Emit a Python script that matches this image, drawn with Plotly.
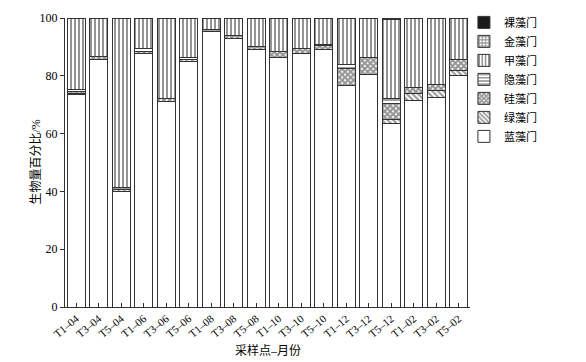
import plotly.graph_objects as go

categories = ["T1–04", "T3–04", "T5–04", "T1–06", "T3–06", "T5–06",
              "T1–08", "T3–08", "T5–08", "T1–10", "T3–10", "T5–10",
              "T1–12", "T3–12", "T5–12", "T1–02", "T3–02", "T5–02"]

lanzao = [73.5, 85.8, 40.0, 87.8, 71.0, 85.0, 95.3, 93.0, 89.0, 86.3, 87.8, 89.0, 76.5, 80.5, 63.5, 71.5, 72.5, 80.0]
lvzao  = [0.5, 0.0, 0.5, 0.0, 0.0, 0.5, 0.0, 0.0, 0.0, 0.0, 0.0, 0.0, 0.0, 0.0, 1.5, 2.5, 2.3, 2.0]
guizao = [0.5, 0.8, 0.0, 0.5, 1.3, 0.0, 0.8, 0.8, 1.3, 2.2, 1.5, 1.5, 6.0, 6.0, 5.5, 2.0, 2.2, 3.5]
yinzao = [0.8, 0.0, 1.0, 1.2, 0.0, 1.0, 0.0, 0.0, 0.0, 0.0, 0.0, 0.5, 1.5, 0.0, 1.5, 0.0, 0.0, 0.0]
jiazao = [24.7, 13.4, 58.5, 10.5, 27.7, 13.5, 3.9, 6.2, 9.7, 11.5, 10.7, 9.0, 16.0, 13.5, 27.5, 24.0, 23.0, 14.5]
jinzao = [0.0, 0.0, 0.0, 0.0, 0.0, 0.0, 0.0, 0.0, 0.0, 0.0, 0.0, 0.0, 0.0, 0.0, 0.0, 0.0, 0.0, 0.0]
luozao = [0.0, 0.0, 0.0, 0.0, 0.0, 0.0, 0.0, 0.0, 0.0, 0.0, 0.0, 0.0, 0.0, 0.0, 0.5, 0.0, 0.0, 0.0]

series = [
    ("蓝藻门", lanzao, "", "white", 0.3),
    ("绿藻门", lvzao, "\\", "white", 0.5),
    ("硅藻门", guizao, "x", "white", 0.75),
    ("隐藻门", yinzao, "-", "white", 0.45),
    ("甲藻门", jiazao, "|", "white", 0.5),
    ("金藻门", jinzao, "+", "white", 0.6),
    ("裸藻门", luozao, "", "#1a1a1a", 0.3),
]

FONT = "Liberation Serif, Noto Sans CJK SC, serif"

fig = go.Figure()
for name, vals, shape, bg, sol in series:
    marker = dict(color=bg, line=dict(color="#333333", width=1))
    if shape:
        marker["pattern"] = dict(shape=shape, fgcolor="#2a2a2a", bgcolor=bg, size=4, solidity=sol)
    fig.add_trace(go.Bar(x=categories, y=vals, name=name, marker=marker))

fig.update_layout(
    barmode="stack",
    bargap=0.2,
    width=578, height=354,
    margin=dict(l=57, r=116, t=10, b=55, autoexpand=False),
    plot_bgcolor="white", paper_bgcolor="white",
    font=dict(family=FONT, size=12, color="black"),
    legend=dict(traceorder="reversed", x=0.985, y=1.035, xanchor="left", yanchor="top",
                font=dict(size=11, color="black"), tracegroupgap=0, bgcolor="rgba(0,0,0,0)"),
    xaxis=dict(showline=True, linecolor="#333333", linewidth=1, ticks="inside", ticklen=4,
               tickcolor="#333333", tickangle=-40, tickfont=dict(size=11, color="black"),
               automargin=False),
    yaxis=dict(range=[0, 100], showline=True, linecolor="#333333", linewidth=1, ticks="outside",
               ticklen=4, tickcolor="#333333", dtick=20, showgrid=False, zeroline=False,
               tickfont=dict(size=12, color="black"), automargin=False),
    annotations=[
        dict(text="采样点–月份", xref="paper", yref="paper", x=0.5, y=0,
             yshift=-43, yanchor="middle", showarrow=False,
             font=dict(size=12, color="black")),
        dict(text="生物量百分比/%", xref="paper", yref="paper", x=0, y=0.5,
             xshift=-30, xanchor="center", yanchor="middle", textangle=-90,
             showarrow=False, font=dict(size=12, color="black")),
    ],
)

fig.write_html("out.html")
